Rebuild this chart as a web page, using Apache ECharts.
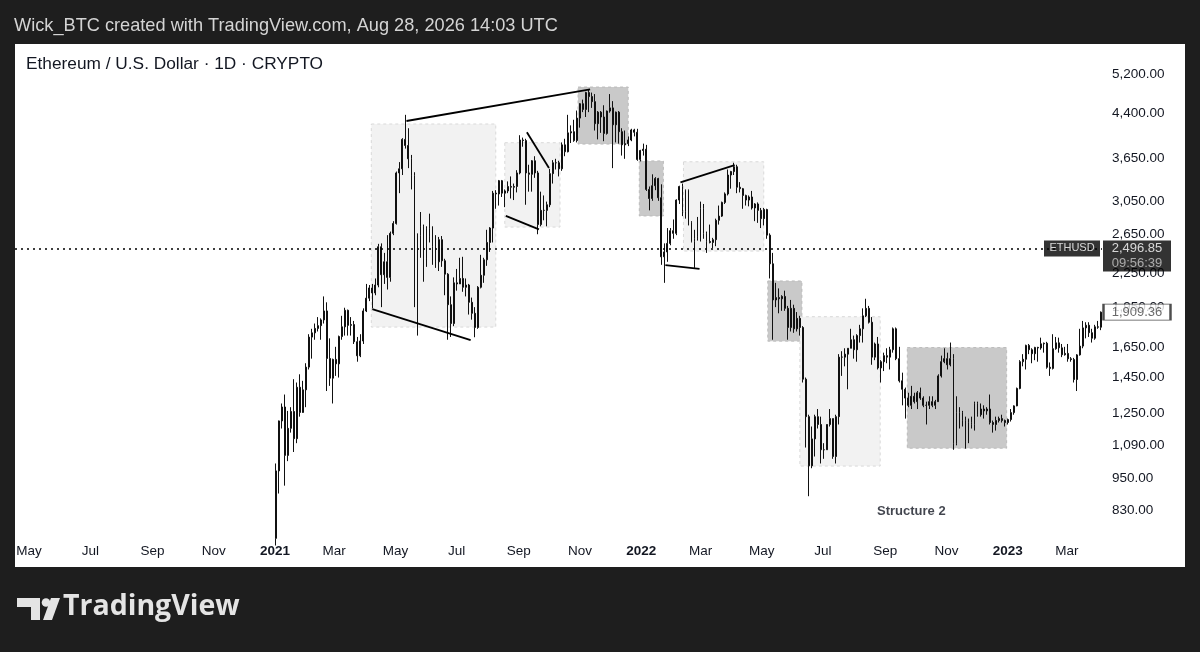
<!DOCTYPE html>
<html><head><meta charset="utf-8">
<script src="https://cdn.jsdelivr.net/npm/echarts@6/dist/echarts.min.js"></script>
<style>
html,body{margin:0;padding:0;background:#1e1e1e;width:1200px;height:652px;overflow:hidden}
#panel{position:absolute;left:15px;top:44px;width:1170px;height:523px;background:#fff}
#chart{position:absolute;left:0;top:0;width:1200px;height:652px}
</style></head><body>
<div id="panel"></div><div id="chart"></div>
<script>
// ---- data: 3-day OHLC periods [open, high, low, close] ----
const periodStart = '2021-01-01';
const periodDays = 3;
const candles2021 = [
[737,1010,715,979],[979,1210,890,1208],[1208,1300,1170,1281],[1281,1350,920,1045],[1045,1260,1020,1171],
[1171,1280,1150,1257],[1257,1440,1060,1121],[1121,1420,1100,1392],[1392,1470,1230,1252],[1252,1430,1250,1377],
[1377,1540,1280,1515],[1515,1740,1500,1719],[1719,1780,1570,1750],[1750,1820,1700,1783],[1783,1870,1760,1804],
[1804,1860,1700,1848],[1848,2040,1820,1919],[1919,1990,1370,1571],[1571,1710,1400,1446],[1446,1570,1300,1565],
[1565,1650,1460,1536],[1536,1730,1450,1723],[1723,1880,1700,1795],[1795,1945,1730,1924],[1924,1930,1730,1806],
[1806,1870,1730,1812],[1812,1840,1670,1686],[1686,1720,1550,1589],[1589,1740,1580,1691],[1691,1940,1670,1919],
[1919,2150,1910,2025],[2025,2140,2000,2114],[2114,2150,1940,2070],[2070,2200,2050,2140],[2140,2545,2120,2514],
[2514,2550,1950,2235],[2235,2450,2150,2360],[2360,2640,2100,2210],[2210,2680,2170,2660],[2660,2800,2640,2773],
[2773,3450,2760,3430],[3430,3590,3150,3490],[3490,3970,3400,3950],[3950,4380,3800,3850],[3850,4140,3500,3640],
[3640,3700,3200,3390],[3390,3440,1950,2440],[2440,2660,1730,2640],[2640,2910,2400,2740],[2740,2760,2170,2390],
[2390,2740,2310,2710],[2710,2890,2560,2630],[2630,2740,2330,2520],[2520,2640,2300,2360],[2360,2620,2270,2590],
[2590,2630,2310,2370],[2370,2390,2050,2240],[2240,2250,1700,1970],[1970,2040,1720,1820],[1820,2210,1800,2160],
[2160,2290,2090,2150],[2150,2400,2150,2200],[2200,2410,2080,2120],[2120,2200,2040,2140],[2140,2150,1890,1990],
[1990,2030,1850,1900],[1900,1950,1718,1790],[1790,2130,1780,2120],[2120,2430,2110,2230],[2230,2400,2160,2380],
[2380,2700,2320,2560],[2560,2730,2460,2720],[2720,3180,2560,3150],[3150,3190,2950,3140],[3140,3330,2990,3320],
[3320,3330,3100,3150],[3150,3200,2970,3180],[3180,3310,3150,3240],[3240,3380,3080,3230],[3230,3280,3060,3240],
[3240,3470,3160,3430],[3430,4020,3410,3940],[3940,3980,3830,3930],[3930,3960,3000,3430],[3430,3550,3170,3410],
[3410,3620,3170,3610],[3610,3680,3360,3430],[3430,3460,2650,2760],[2760,3170,2740,2930],[2930,3120,2810,2930],
[2930,3040,2740,3000],[3000,3490,2970,3420],[3420,3620,3280,3580],[3580,3640,3480,3580],[3580,3610,3380,3490],
[3490,3900,3460,3860],[3860,3960,3680,3750],[3750,4380,3740,4060],[4060,4190,3890,4080],[4080,4290,3910,3930],
[3930,4460,3900,4320],[4320,4600,4150,4590],[4590,4670,4430,4480],[4480,4825,4340,4810],[4810,4870,4430,4730],
[4730,4810,4510,4630],[4630,4780,4100,4220],[4220,4450,3950,4430],[4430,4450,4060,4340],[4340,4560,3920,4050],
[4050,4460,4030,4450],[4450,4780,4420,4510],[4510,4640,3500,4200],[4200,4440,3900,4430],[4430,4450,3880,4080],
[4080,4140,3690,3860],[3860,4100,3640,3880],[3880,4000,3840,3940],[3940,4130,3920,4110],[4110,4130,4000,4070],
[4070,4130,3610,3630],[3630,3780,3600,3770]
];
const candles2022 = [
[3770,3880,3690,3790],[3790,3860,3180,3200],[3200,3240,2930,3080],[3080,3410,3050,3250],[3250,3370,3190,3350],
[3350,3360,3050,3090],[3090,3270,2330,2410],[2410,2550,2160,2460],[2460,2720,2360,2550],[2550,2720,2530,2690],
[2690,2820,2600,2660],[2660,3070,2640,3060],[3060,3250,3010,3240],[3240,3280,2860,2920],[2920,3200,2830,3180],
[3180,3200,2750,2780],[2780,2800,2560,2570],[2570,2700,2300,2600],[2600,2850,2580,2620],[2620,3040,2570,2950],
[2950,3010,2600,2660],[2660,2680,2450,2570],[2570,2760,2550,2560],[2560,2610,2500,2590],[2590,2830,2520,2810],
[2810,2990,2760,2860],[2860,3040,2850,3030],[3030,3160,3010,3140],[3140,3480,3120,3400],[3400,3460,3210,3450],
[3450,3580,3400,3520],[3520,3550,3150,3230],[3230,3300,3160,3210],[3210,3220,2950,3120],[3120,3130,2990,3060],
[3060,3120,2980,3100],[3100,3180,2940,2960],[2960,3020,2800,3010],[3010,3030,2780,2930],[2930,2960,2720,2830],
[2830,2960,2750,2940],[2940,2950,2600,2640],[2640,2660,2200,2340],[2340,2450,1700,2010],[2010,2160,1950,2030],
[2030,2110,1900,2020],[2020,2050,1920,2040],[2040,2090,1920,1940],[1940,1960,1700,1790],[1790,2010,1760,1940],
[1940,1970,1750,1780],[1780,1910,1760,1860],[1860,1880,1730,1790],[1790,1800,1420,1440],[1440,1450,1080,1230],
[1230,1240,880,1000],[1000,1180,990,1120],[1120,1240,1040,1230],[1230,1270,1170,1190],[1190,1230,1010,1070],
[1070,1100,1030,1070],[1070,1190,1070,1190],[1190,1270,1180,1220],[1220,1220,1030,1040],[1040,1240,1010,1230],
[1230,1600,1190,1580],[1580,1620,1460,1580],[1580,1640,1520,1600],[1600,1640,1380,1640],[1640,1780,1640,1700],
[1700,1730,1570,1630],[1630,1740,1550,1730],[1730,1810,1680,1780],[1780,1940,1680,1880],[1880,2020,1870,1940],
[1940,1960,1820,1830],[1830,1870,1530,1580],[1580,1680,1560,1670],[1670,1720,1500,1510],[1510,1560,1420,1550],
[1550,1610,1490,1590],[1590,1640,1540,1580],[1580,1650,1500,1630],[1630,1790,1610,1780],[1780,1790,1560,1570],
[1570,1650,1420,1430],[1430,1480,1290,1380],[1380,1390,1220,1330],[1330,1360,1280,1290],[1290,1400,1270,1340],
[1340,1360,1300,1310],[1310,1370,1270,1360],[1360,1390,1320,1330],[1330,1340,1280,1290],[1290,1310,1190,1290],
[1290,1340,1270,1310],[1310,1340,1280,1290],[1290,1320,1270,1310],[1310,1470,1310,1460],[1460,1590,1450,1550],
[1550,1640,1540,1570],[1570,1610,1500,1530],[1530,1680,1520,1570],[1570,1600,1070,1100],[1100,1340,1090,1250],
[1250,1280,1170,1250],[1250,1260,1180,1210],[1210,1230,1075,1110],[1110,1220,1100,1200],[1200,1230,1170,1190],
[1190,1310,1160,1300],[1300,1310,1230,1240],[1240,1300,1230,1270],[1270,1290,1220,1260],[1260,1280,1240,1270],
[1270,1350,1190,1200],[1200,1210,1150,1190],[1190,1230,1160,1210],[1210,1230,1200,1220],[1220,1240,1200,1210],
[1210,1215,1180,1200],[1200,1220,1190,1215]
];
const candles2023 = [
[1215,1270,1205,1251],[1251,1290,1240,1287],[1287,1390,1285,1385],[1385,1560,1380,1550],[1550,1600,1520,1566],
[1566,1665,1500,1660],[1660,1670,1600,1630],[1630,1640,1540,1603],[1603,1650,1560,1646],[1646,1650,1550,1642],
[1642,1715,1630,1671],[1671,1680,1610,1675],[1675,1685,1505,1514],[1514,1545,1460,1507],[1507,1740,1500,1637],
[1637,1720,1630,1678],[1678,1715,1610,1643],[1643,1670,1580,1596],[1596,1650,1590,1605],[1605,1670,1550,1569],
[1569,1580,1550,1564],[1564,1575,1420,1438],[1438,1600,1370,1595],[1595,1780,1590,1655],[1655,1840,1640,1787],
[1787,1830,1710,1807],[1807,1830,1720,1751],[1751,1780,1680,1711],[1711,1810,1700,1795],[1795,1840,1780,1792],
[1792,1915,1770,1909.36]
];
const priceTicks = [830, 950, 1090, 1250, 1450, 1650, 1950, 2250, 2650, 3050, 3650, 4400, 5200];
const timeTicks = ['2020-05-01','2020-07-01','2020-09-01','2020-11-01','2021-01-01','2021-03-01','2021-05-01',
  '2021-07-01','2021-09-01','2021-11-01','2022-01-01','2022-03-01','2022-05-01','2022-07-01','2022-09-01',
  '2022-11-01','2023-01-01','2023-03-01'];
const monthNames = ['Jan','Feb','Mar','Apr','May','Jun','Jul','Aug','Sep','Oct','Nov','Dec'];
const symbolName = 'ETHUSD';
const currentPrice = 2496.85;
const currentTime = '09:56:39';
// zones: [start, top price, end, bottom price, shade 0 light / 1 dark]
const zones = [
  ['2021-04-07', 4214, '2021-08-09', 1793, 0],
  ['2021-08-18', 3895, '2021-10-12', 2731, 0],
  ['2021-10-30', 4923, '2021-12-19', 3873, 1],
  ['2021-12-30', 3608, '2022-01-23', 2862, 1],
  ['2022-02-12', 3595, '2022-05-03', 2469, 0],
  ['2022-05-07', 2177, '2022-06-10', 1690, 1],
  ['2022-06-08', 1873, '2022-08-27', 999, 0],
  ['2022-09-23', 1645, '2022-12-31', 1077, 1]
];
// trend lines: [date1, price1, date2, price2]
const trendLines = [
  ['2021-05-12', 4268, '2021-11-11', 4876],
  ['2021-04-08', 1934, '2021-07-15', 1697],
  ['2021-08-19', 2862, '2021-09-21', 2705],
  ['2021-09-09', 4069, '2021-10-01', 3502],
  ['2022-02-09', 3297, '2022-04-04', 3546],
  ['2022-01-25', 2327, '2022-02-28', 2291]
];
const noteText = ['2022-09-27', 826, 'Structure 2'];

// ---- build ----
const FONT = '"Liberation Sans", Arial, sans-serif';
const t = s => new Date(s + 'T00:00:00').getTime();
const xMin = t('2020-04-17'), xMax = t('2023-04-05');
const yMin = 735, yMax = 5901;
const allCandles = candles2021.concat(candles2022, candles2023);
const s0 = new Date(periodStart + 'T00:00:00');
const candleData = allCandles.map((c, i) => {
  const d = new Date(s0.getFullYear(), s0.getMonth(), s0.getDate() + i * periodDays + 1);
  return [d.getTime(), c[0], c[3], c[2], c[1]];
});
const lastClose = allCandles[allCandles.length - 1][3];
const fmt = v => Number(v).toLocaleString('en-US', {minimumFractionDigits: 2, maximumFractionDigits: 2});
const INK = '#131722';

const chart = echarts.init(document.getElementById('chart'));
chart.setOption({
  backgroundColor: 'transparent',
  animation: false,
  textStyle: {fontFamily: FONT},
  title: [
    {text: 'Wick_BTC created with TradingView.com, Aug 28, 2026 14:03 UTC', left: 14, top: 17, padding: 0,
     textStyle: {color: '#d4d4d4', fontSize: 18.2, fontWeight: 'normal', fontFamily: FONT}},
    {text: 'Ethereum / U.S. Dollar \u00b7 1D \u00b7 CRYPTO', left: 26, top: 56, padding: 0,
     textStyle: {color: INK, fontSize: 17.3, fontWeight: 'normal', fontFamily: FONT}}
  ],
  grid: {left: 15, right: 98, top: 44, bottom: 113},
  xAxis: {
    type: 'value', min: xMin, max: xMax, scale: true,
    axisLine: {show: false}, axisTick: {show: false}, splitLine: {show: false},
    axisLabel: {
      customValues: timeTicks.map(t), color: INK, fontSize: 13.5, margin: 5, fontFamily: FONT,
      formatter: v => { const d = new Date(v); return d.getMonth() === 0 ? '{y|' + d.getFullYear() + '}' : monthNames[d.getMonth()]; },
      rich: {y: {fontWeight: 'bold', fontSize: 13.5, color: INK, fontFamily: FONT}}
    }
  },
  yAxis: {
    type: 'log', logBase: 10, min: yMin, max: yMax, position: 'right',
    axisLine: {show: false}, axisTick: {show: false}, splitLine: {show: false},
    axisLabel: {customValues: priceTicks, formatter: v => fmt(v), color: INK, fontSize: 13.5, margin: 10, fontFamily: FONT}
  },
  graphic: [
    {type: 'polygon', shape: {points: [[17,598],[40,598],[40,620],[31,620],[31,607],[17,607]]}, style: {fill: '#e4e4e4'}},
    {type: 'circle', shape: {cx: 46, cy: 602.5, r: 4.3}, style: {fill: '#e4e4e4'}},
    {type: 'polygon', shape: {points: [[51,598],[60,598],[52,620],[43,620]]}, style: {fill: '#e4e4e4'}},
    {type: 'text', left: 63, top: 592, style: {text: 'TradingView', fill: '#e4e4e4', font: 'bold 28.5px "Open Sans", Lato, sans-serif'}}
  ],
  series: [
    {
      type: 'custom', name: 'zones', z: 1, silent: true,
      data: zones.map(z => [t(z[0]), z[1], t(z[2]), z[3], z[4]]),
      encode: {x: [0, 2], y: [1, 3]},
      renderItem: (params, api) => {
        const p1 = api.coord([api.value(0), api.value(1)]);
        const p2 = api.coord([api.value(2), api.value(3)]);
        const dark = api.value(4) === 1;
        return {type: 'rect',
          shape: {x: Math.min(p1[0], p2[0]), y: Math.min(p1[1], p2[1]), width: Math.abs(p2[0] - p1[0]), height: Math.abs(p2[1] - p1[1])},
          style: {fill: dark ? '#c9c9c9' : '#f2f2f2', stroke: dark ? '#bbbbbb' : '#d9d9d9', lineWidth: 1, lineDash: [3, 3]}};
      }
    },
    {
      type: 'candlestick', name: 'ETHUSD', z: 3, barWidth: 1.4,
      data: candleData,
      itemStyle: {color: '#111', color0: '#111', borderColor: '#111', borderColor0: '#111', borderWidth: 1},
      markLine: {silent: true, symbol: ['none', 'none'], label: {show: false},
        lineStyle: {color: '#000', type: [2, 4], width: 1.6},
        data: [{yAxis: currentPrice}]}
    },
    {
      type: 'custom', name: 'trendlines', z: 4, silent: true,
      data: trendLines.map(l => [t(l[0]), l[1], t(l[2]), l[3]]),
      encode: {x: [0, 2], y: [1, 3]},
      renderItem: (params, api) => {
        const p1 = api.coord([api.value(0), api.value(1)]);
        const p2 = api.coord([api.value(2), api.value(3)]);
        return {type: 'line', shape: {x1: p1[0], y1: p1[1], x2: p2[0], y2: p2[1]}, style: {stroke: '#000', lineWidth: 1.8}};
      }
    },
    {
      type: 'scatter', name: 'note', z: 5, silent: true, symbolSize: 0,
      data: [[t(noteText[0]), noteText[1]]],
      label: {show: true, position: 'inside', formatter: noteText[2], fontWeight: 'bold', fontSize: 13, color: INK, fontFamily: FONT}
    },
    {
      type: 'scatter', name: 'tags', z: 10, silent: true, clip: false,
      data: [
        {value: [xMax, currentPrice], symbol: 'rect', symbolSize: [56, 16], symbolOffset: [-30, 0],
         itemStyle: {color: '#000'},
         label: {show: true, position: 'inside', formatter: symbolName, color: '#fff', fontSize: 11, fontFamily: FONT}},
        {value: [xMax, currentPrice], symbol: 'rect', symbolSize: [68, 31], symbolOffset: [35, 7.5],
         itemStyle: {color: '#000'},
         label: {show: true, position: 'inside', formatter: fmt(currentPrice) + '\n{t|' + currentTime + '}',
           color: '#fff', fontSize: 13, lineHeight: 15, fontFamily: FONT,
           rich: {t: {color: '#c8c8c8', fontSize: 13, lineHeight: 15, fontFamily: FONT}}}},
        {value: [xMax, lastClose], symbol: 'rect', symbolSize: [67, 16], symbolOffset: [35, 0],
         itemStyle: {color: '#fff', borderColor: '#222', borderWidth: 1.2},
         label: {show: true, position: 'inside', formatter: fmt(lastClose), color: '#444', fontSize: 13, fontFamily: FONT}}
      ]
    }
  ]
});
</script>
</body></html>
